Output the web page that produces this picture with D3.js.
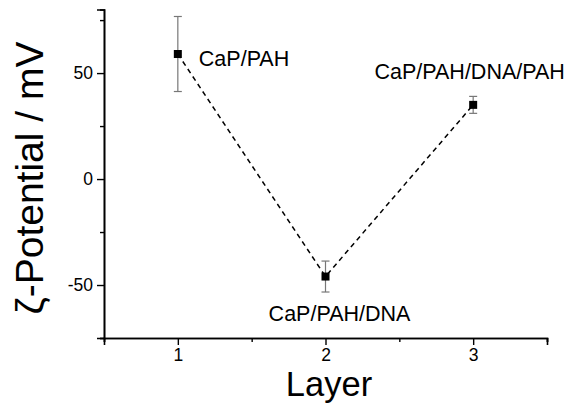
<!DOCTYPE html>
<html>
<meta charset="utf-8">
<head>
<script src="https://d3js.org/d3.v7.min.js"></script>
<style>
  body { margin: 0; background: #fff; }
  text { font-family: "Liberation Sans", Arial, sans-serif; fill: #000; }
</style>
</head>
<body>
<script>
// data
var layers = [1, 2, 3];
var zeta = [59, -46, 35];
var errors = [17.7, 7.3, 4];
var names = ["CaP/PAH", "CaP/PAH/DNA", "CaP/PAH/DNA/PAH"];
var yMajor = [-50, 0, 50];
var yMinor = [-75, -25, 25, 75];
var xMajor = [1, 2, 3];
var xMinor = [0.5, 1.5, 2.5, 3.5];

var width = 571, height = 404;
var svg = d3.select("body").append("svg")
  .attr("width", width)
  .attr("height", height);

var x = d3.scaleLinear().domain([0.5, 3.5]).range([104, 547]);
var y = d3.scaleLinear().domain([-75, 80]).range([338, 9.5]);

var data = layers.map(function (l, i) {
  return { layer: l, v: zeta[i], err: errors[i], name: names[i] };
});

// axes (plain hyphen for negatives, like the original)
var fmt = function (d) { return String(d); };
var yAxis = d3.axisLeft(y).tickValues(yMajor).tickSize(7).tickPadding(4).tickFormat(fmt);
var yAxisMinor = d3.axisLeft(y).tickValues(yMinor).tickSize(4).tickFormat("");
var xAxis = d3.axisBottom(x).tickValues(xMajor).tickSize(7).tickPadding(3.5).tickFormat(fmt);
var xAxisMinor = d3.axisBottom(x).tickValues(xMinor).tickSize(4).tickFormat("");

function style(g) {
  g.select(".domain").attr("stroke", "#000").attr("stroke-width", 1.6);
  g.selectAll(".tick line").attr("stroke", "#000").attr("stroke-width", 1.4);
  g.selectAll(".tick text").attr("font-size", 17.5).attr("font-family", "Liberation Sans, Arial, sans-serif").attr("fill", "#000");
}

svg.append("g").attr("transform", "translate(" + x(0.5) + ",0)").call(yAxisMinor).call(style);
svg.append("g").attr("transform", "translate(" + x(0.5) + ",0)").call(yAxis).call(style);
svg.append("g").attr("transform", "translate(0," + y(-75) + ")").call(xAxisMinor).call(style);
svg.append("g").attr("transform", "translate(0," + y(-75) + ")").call(xAxis).call(style);

// dashed line
var line = d3.line().x(function (d) { return x(d.layer); }).y(function (d) { return y(d.v); });
svg.append("path")
  .datum(data)
  .attr("d", line)
  .attr("fill", "none")
  .attr("stroke", "#000")
  .attr("stroke-width", 1.5)
  .attr("stroke-dasharray", "5,4");

// error bars
var eb = svg.append("g").attr("stroke", "#777").attr("stroke-width", 1.2);
data.forEach(function (d) {
  var cx = x(d.layer);
  eb.append("line").attr("x1", cx).attr("x2", cx).attr("y1", y(d.v + d.err)).attr("y2", y(d.v - d.err));
  eb.append("line").attr("x1", cx - 4).attr("x2", cx + 4).attr("y1", y(d.v + d.err)).attr("y2", y(d.v + d.err));
  eb.append("line").attr("x1", cx - 4).attr("x2", cx + 4).attr("y1", y(d.v - d.err)).attr("y2", y(d.v - d.err));
});

// markers
svg.selectAll("rect.pt")
  .data(data)
  .join("rect")
  .attr("class", "pt")
  .attr("x", function (d) { return x(d.layer) - 4; })
  .attr("y", function (d) { return y(d.v) - 4; })
  .attr("width", 8)
  .attr("height", 8)
  .attr("fill", "#000");

// point labels
var offs = [[21, 12, "start"], [14, 44, "middle"], [-3.5, -26, "middle"]];
svg.selectAll("text.lbl")
  .data(data)
  .join("text")
  .attr("class", "lbl")
  .attr("x", function (d, i) { return x(d.layer) + offs[i][0]; })
  .attr("y", function (d, i) { return y(d.v) + offs[i][1]; })
  .attr("text-anchor", function (d, i) { return offs[i][2]; })
  .attr("font-size", 21.5)
  .text(function (d) { return d.name; });

// axis titles
svg.append("text")
  .attr("x", 329)
  .attr("y", 396.2)
  .attr("text-anchor", "middle")
  .attr("font-size", 34.5)
  .text("Layer");

svg.append("text")
  .attr("transform", "translate(43,178) rotate(-90)")
  .attr("text-anchor", "middle")
  .attr("font-size", 39)
  .text("ζ-Potential / mV");
</script>
</body>
</html>
